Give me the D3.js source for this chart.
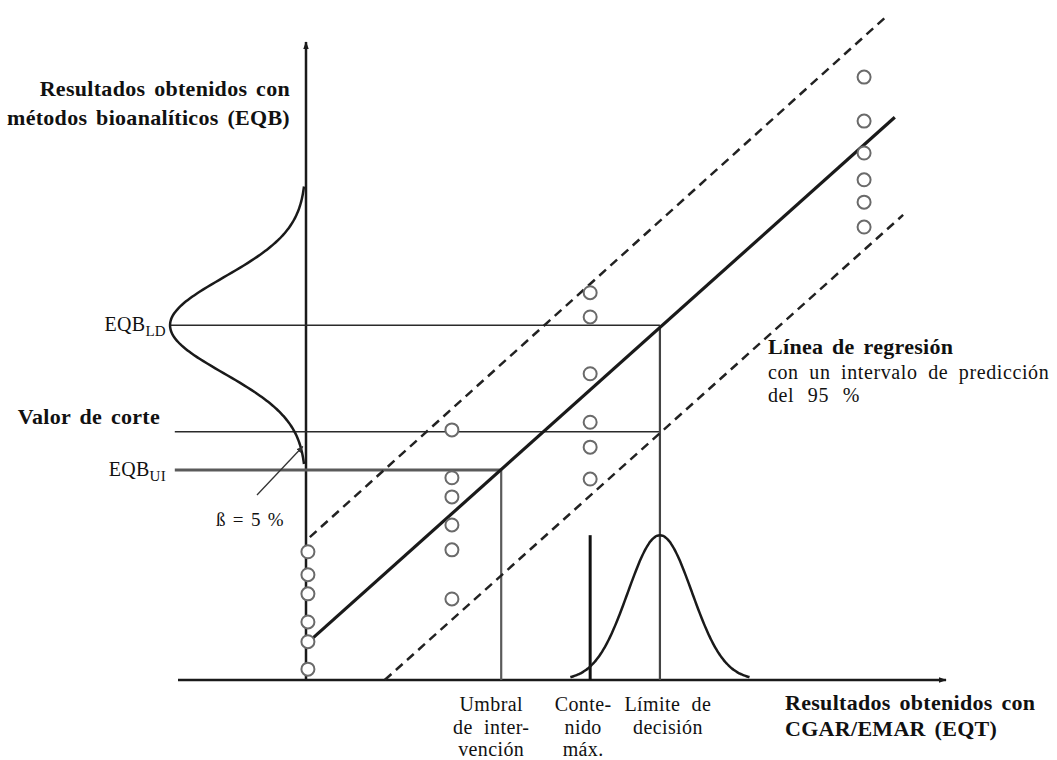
<!DOCTYPE html>
<html><head><meta charset="utf-8">
<script src="https://cdn.jsdelivr.net/npm/d3@7"></script>
<style>body{margin:0;background:#fff}svg{display:block}</style>
</head><body><svg id="c" width="1057" height="760"></svg>
<script>
// ---- data (EQT units on x, EQB units on y) ----
const groupX = [0.3, 22.8, 44.4, 87.2];
const groupY = [
  [20.1, 16.5, 13.5, 9.1, 6.0, 1.7],
  [39.2, 31.7, 28.7, 24.3, 20.4, 12.7],
  [60.7, 56.9, 48.0, 40.4, 36.5, 31.5],
  [94.5, 87.6, 82.6, 78.4, 74.9, 71.0]
];
const regressionX = [1.1, 92.0];
const regressionY = [6.6, 88.2];
const upperX = [0.6, 90.9];
const upperY = [22.4, 104.2];
const lowerX = [12.3, 93.3];
const lowerY = [0, 72.9];
const levelNames = ["EQB_LD", "Valor de corte", "EQB_UI"];
const levelValues = [55.6, 38.9, 32.9];
const levelStart = [-21.25, -20.5, -20.5];
const levelEnd = [55.3, 55.3, 30.5];
const markerNames = ["Umbral|de inter-|vención", "Conte-|nido|máx.", "Límite de|decisión"];
const markerValues = [30.5, 44.4, 55.3];
const markerTop = [32.9, 22.7, 55.6];
// distributions: [mean, sd, height, span in sd]
const distEQT = [55.3, 5.0, 22.7, 2.8];   // along x axis
const distEQB = [55.6, 7.5, 21.25, 2.9];  // along y axis (height in x units to the left)

const svg = d3.select("#c");
const x = d3.scaleLinear().domain([-20, 100]).range([178, 946]);
const y = d3.scaleLinear().domain([0, 100]).range([680, 42]);
const ink = "#1a1a1a", grey = "#5a5a5a";
const font = "'Liberation Serif', 'DejaVu Serif', serif";

const defs = svg.append("defs");
defs.append("marker").attr("id","ah").attr("viewBox","0 0 10 10").attr("refX",9).attr("refY",5)
  .attr("markerWidth",8).attr("markerHeight",8).attr("markerUnits","userSpaceOnUse").attr("orient","auto")
  .append("path").attr("d","M0,1.5L10,5L0,8.5Z").attr("fill",ink);
defs.append("marker").attr("id","ahs").attr("viewBox","0 0 10 10").attr("refX",9).attr("refY",5)
  .attr("markerWidth",7).attr("markerHeight",7).attr("markerUnits","userSpaceOnUse").attr("orient","auto")
  .append("path").attr("d","M0,1L10,5L0,9Z").attr("fill","#333");

const line = d3.line().x(d => x(d[0])).y(d => y(d[1]));

// axes
svg.append("line").attr("x1", x(-20)).attr("x2", x(100)).attr("y1", y(0)).attr("y2", y(0))
  .attr("stroke", ink).attr("stroke-width", 2.5).attr("marker-end","url(#ah)");
svg.append("line").attr("x1", x(0)).attr("x2", x(0)).attr("y1", y(0)).attr("y2", y(100))
  .attr("stroke", ink).attr("stroke-width", 2.5).attr("marker-end","url(#ah)");

// horizontal levels
const lvlStyle = [{c:"#2a2a2a",w:1.6},{c:"#2a2a2a",w:1.6},{c:grey,w:3}];
levelValues.forEach((v,i) => {
  svg.append("line").attr("x1", x(levelStart[i])).attr("x2", x(levelEnd[i]))
    .attr("y1", y(v)).attr("y2", y(v)).attr("stroke", lvlStyle[i].c).attr("stroke-width", lvlStyle[i].w);
});
// vertical markers
const mkStyle = [{c:grey,w:2.2},{c:"#111",w:3},{c:"#444",w:2.2}];
markerValues.forEach((v,i) => {
  svg.append("line").attr("x1", x(v)).attr("x2", x(v)).attr("y1", y(0)).attr("y2", y(markerTop[i]))
    .attr("stroke", mkStyle[i].c).attr("stroke-width", mkStyle[i].w);
});

// distributions
function bell(p) {
  const [m, s, h, k] = p;
  return d3.range(-k, k + 0.001, 0.05).map(t => [m + t * s, h * Math.exp(-t * t / 2)]);
}
svg.append("path").attr("d", d3.line().x(d => x(d[0])).y(d => y(d[1])).curve(d3.curveBasis)(bell(distEQT)))
  .attr("fill","none").attr("stroke", ink).attr("stroke-width", 2.5);
svg.append("path").attr("d", d3.line().x(d => x(-d[1])).y(d => y(d[0])).curve(d3.curveBasis)(bell(distEQB)))
  .attr("fill","none").attr("stroke", ink).attr("stroke-width", 2.5);

// regression and prediction interval
svg.append("path").attr("d", line(d3.zip(upperX, upperY))).attr("fill","none")
  .attr("stroke", "#222").attr("stroke-width", 2.5).attr("stroke-dasharray","9,6");
svg.append("path").attr("d", line(d3.zip(lowerX, lowerY))).attr("fill","none")
  .attr("stroke", "#222").attr("stroke-width", 2.5).attr("stroke-dasharray","9,6");
svg.append("path").attr("d", line(d3.zip(regressionX, regressionY))).attr("fill","none")
  .attr("stroke", ink).attr("stroke-width", 3.2);

// points
groupX.forEach((gx, i) => {
  svg.selectAll(null).data(groupY[i]).enter().append("circle")
    .attr("cx", x(gx)).attr("cy", d => y(d)).attr("r", 6.5)
    .attr("fill", "#fff").attr("stroke", "#6a6a6a").attr("stroke-width", 2);
});

// beta annotation arrow
svg.append("line").attr("x1", x(-7.66)).attr("y1", y(29.0)).attr("x2", x(-0.5)).attr("y2", y(36.6))
  .attr("stroke", "#333").attr("stroke-width", 1.3).attr("marker-end","url(#ahs)");

// texts
function txt(px, py, s, opt = {}) {
  return svg.append("text").attr("x", px).attr("y", py).text(s)
    .attr("font-family", font).attr("font-size", opt.size || 22)
    .attr("font-weight", opt.bold ? "bold" : "normal")
    .attr("letter-spacing", opt.ls != null ? opt.ls : 0.3)
    .attr("word-spacing", opt.ws != null ? opt.ws : 3)
    .attr("text-anchor", opt.anchor || "start").attr("fill", "#111");
}
txt(290, 96, "Resultados obtenidos con", {bold:true, anchor:"end"});
txt(290, 125, "métodos bioanalíticos (EQB)", {bold:true, anchor:"end"});

function sub(px, py, base, s) {
  const t = svg.append("text").attr("x", px).attr("y", py).attr("font-family", font)
    .attr("font-size", 20).attr("letter-spacing", 0.3).attr("text-anchor", "end").attr("fill", "#111");
  t.append("tspan").text(base);
  t.append("tspan").text(s).attr("font-size", 15).attr("dy", 5);
}
sub(166, 331, "EQB", levelNames[0].split("_")[1]);
txt(160, 424, levelNames[1], {bold:true, anchor:"end"});
sub(166, 476, "EQB", levelNames[2].split("_")[1]);
txt(216, 526, "ß = 5 %", {size:19, ws:2});

txt(768, 354, "Línea de regresión", {bold:true});
txt(768, 379, "con un intervalo de predicción", {size:20, ws:5, ls:0.6});
txt(768, 402, "del 95 %", {size:20, ws:8, ls:0.6});

const labelShift = [-10, -7, 8];
markerNames.forEach((nm, i) => {
  nm.split("|").forEach((ln, j) => {
    txt(x(markerValues[i]) + labelShift[i], 711 + j * 22.5, ln, {size:20, anchor:"middle", ws:6, ls:0.4});
  });
});

txt(785, 710, "Resultados obtenidos con", {bold:true});
txt(785, 736, "CGAR/EMAR (EQT)", {bold:true});
</script></body></html>
